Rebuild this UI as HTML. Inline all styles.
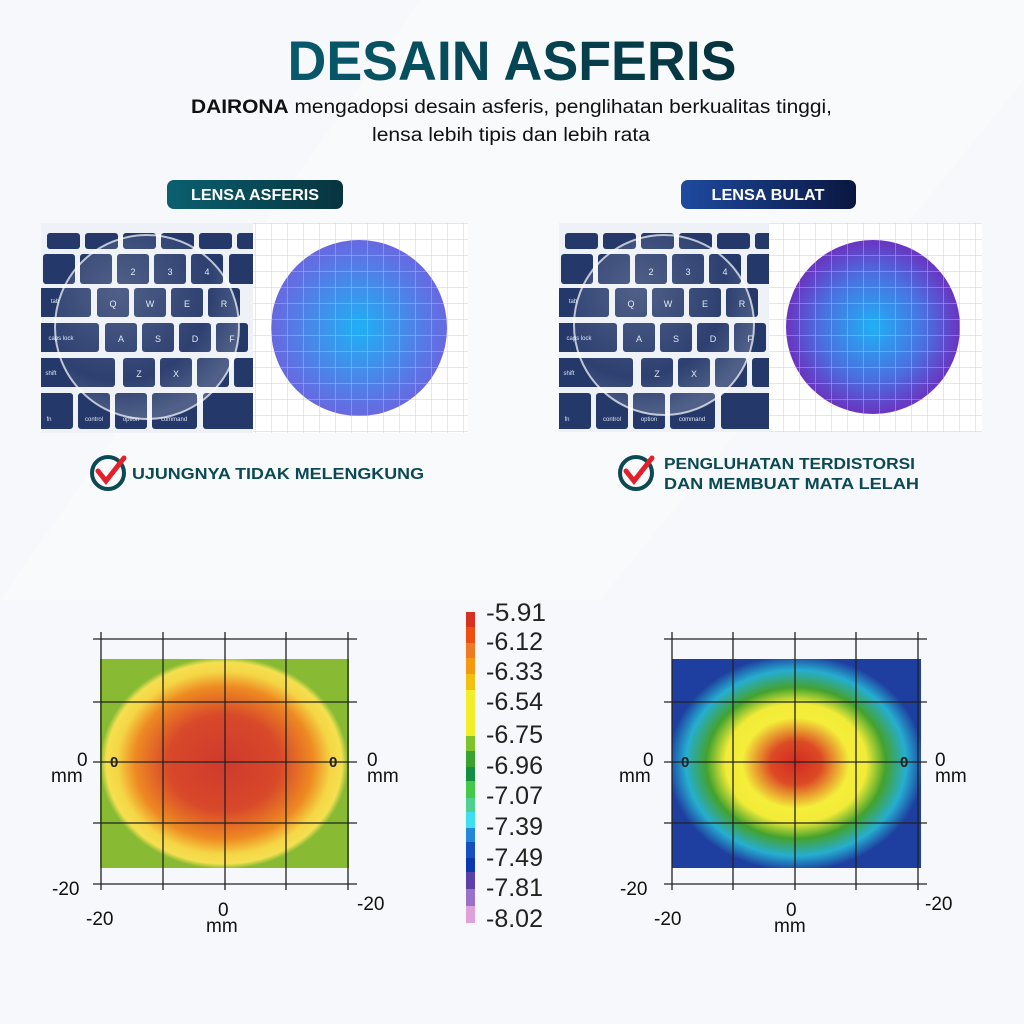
<!DOCTYPE html>
<html><head><meta charset="utf-8"><style>
html,body{margin:0;padding:0;background:#f7f8fb;}
svg{display:block}
text{font-family:"Liberation Sans",sans-serif}
</style></head><body>
<svg width="1024" height="1024" viewBox="0 0 1024 1024" xmlns="http://www.w3.org/2000/svg">
<defs>
<clipPath id="cl1"><rect x="100" y="659" width="249" height="209"/></clipPath>
<clipPath id="cl2"><rect x="672" y="659" width="249" height="209"/></clipPath>
<linearGradient id="tb" x1="0" x2="1"><stop offset="0" stop-color="#0a6070"/><stop offset="1" stop-color="#07343f"/></linearGradient>
<linearGradient id="bb" x1="0" x2="1"><stop offset="0" stop-color="#1e4aa0"/><stop offset="1" stop-color="#0a1640"/></linearGradient>
<linearGradient id="tt" x1="0" x2="1"><stop offset="0" stop-color="#075a6c"/><stop offset="1" stop-color="#06323d"/></linearGradient>
<radialGradient id="c1" cx="0.5" cy="0.5" r="0.5"><stop offset="0" stop-color="#1fb0f5"/><stop offset="1" stop-color="#6868e0"/></radialGradient>
<radialGradient id="c2" cx="0.5" cy="0.5" r="0.5"><stop offset="0" stop-color="#1fb0f5"/><stop offset="0.6" stop-color="#4a70e0"/><stop offset="1" stop-color="#6a34c0"/></radialGradient>
<radialGradient id="h1" cx="0.5" cy="0.5" r="0.5"><stop offset="0" stop-color="#cf3a2c"/><stop offset="0.45" stop-color="#d8482a"/><stop offset="0.72" stop-color="#ee8a22"/><stop offset="0.86" stop-color="#f5d545"/><stop offset="0.95" stop-color="#f5e050"/><stop offset="1" stop-color="#88bb33"/></radialGradient>
<radialGradient id="h2" cx="0.5" cy="0.5" r="0.5"><stop offset="0" stop-color="#d42a20"/><stop offset="0.2" stop-color="#dd4a25"/><stop offset="0.42" stop-color="#f4ee3a"/><stop offset="0.55" stop-color="#f2ec38"/><stop offset="0.7" stop-color="#44a22e"/><stop offset="0.86" stop-color="#26aed0"/><stop offset="1" stop-color="#1e3fa0"/></radialGradient>
<radialGradient id="glass" cx="0.35" cy="0.3" r="0.7"><stop offset="0" stop-color="#fff" stop-opacity="0.2"/><stop offset="0.7" stop-color="#fff" stop-opacity="0.04"/><stop offset="1" stop-color="#fff" stop-opacity="0.2"/></radialGradient>
<g id="kb">
<rect x="0" y="0" width="212" height="210" fill="#eef1f6"/>
<g fill="#24386a">
<rect x="6" y="10" width="33" height="16" rx="3"/><rect x="44" y="10" width="33" height="16" rx="3"/><rect x="82" y="10" width="33" height="16" rx="3"/><rect x="120" y="10" width="33" height="16" rx="3"/><rect x="158" y="10" width="33" height="16" rx="3"/><rect x="196" y="10" width="20" height="16" rx="3"/>
<rect x="2" y="31" width="32" height="30" rx="3"/><rect x="39" y="31" width="32" height="30" rx="3"/><rect x="76" y="31" width="32" height="30" rx="3"/><rect x="113" y="31" width="32" height="30" rx="3"/><rect x="150" y="31" width="32" height="30" rx="3"/><rect x="188" y="31" width="30" height="30" rx="3"/>
<rect x="-2" y="65" width="52" height="29" rx="3"/><rect x="56" y="65" width="32" height="29" rx="3"/><rect x="93" y="65" width="32" height="29" rx="3"/><rect x="130" y="65" width="32" height="29" rx="3"/><rect x="167" y="65" width="32" height="29" rx="3"/>
<rect x="-4" y="100" width="62" height="29" rx="3"/><rect x="64" y="100" width="32" height="29" rx="3"/><rect x="101" y="100" width="32" height="29" rx="3"/><rect x="138" y="100" width="32" height="29" rx="3"/><rect x="175" y="100" width="32" height="29" rx="3"/>
<rect x="-4" y="135" width="78" height="29" rx="3"/><rect x="82" y="135" width="32" height="29" rx="3"/><rect x="119" y="135" width="32" height="29" rx="3"/><rect x="156" y="135" width="32" height="29" rx="3"/><rect x="193" y="135" width="25" height="29" rx="3"/>
<rect x="-4" y="170" width="36" height="36" rx="3"/><rect x="37" y="170" width="32" height="36" rx="3"/><rect x="74" y="170" width="32" height="36" rx="3"/><rect x="111" y="170" width="45" height="36" rx="3"/><rect x="162" y="170" width="56" height="36" rx="3"/>
</g>
<g fill="#dfe6f3" font-size="9" text-anchor="middle">
<text x="72" y="84">Q</text><text x="109" y="84">W</text><text x="146" y="84">E</text><text x="183" y="84">R</text>
<text x="80" y="119">A</text><text x="117" y="119">S</text><text x="154" y="119">D</text><text x="191" y="119">F</text>
<text x="98" y="154">Z</text><text x="135" y="154">X</text>
<text x="92" y="52">2</text><text x="129" y="52">3</text><text x="166" y="52">4</text>
<text font-size="6" x="14" y="80">tab</text><text font-size="6" x="20" y="117">caps lock</text><text font-size="6" x="10" y="152">shift</text><text font-size="6" x="8" y="198">fn</text><text font-size="6" x="53" y="198">control</text><text font-size="6" x="90" y="198">option</text><text font-size="6" x="133" y="198">command</text>
</g>
</g>
<pattern id="grid" width="16" height="16" patternUnits="userSpaceOnUse"><path d="M16 0V16H0" fill="none" stroke="#c4c6cc" stroke-width="1"/></pattern>
</defs>

<rect width="1024" height="1024" fill="#f7f8fb"/>
<polygon points="0,600 420,0 1024,0 1024,80 600,600" fill="#ffffff" opacity="0.3"/>

<text x="512" y="80" text-anchor="middle" font-size="56" font-weight="bold" fill="url(#tt)" textLength="449" lengthAdjust="spacingAndGlyphs">DESAIN ASFERIS</text>
<text x="191" y="113" font-size="19" fill="#111" textLength="641" lengthAdjust="spacingAndGlyphs"><tspan font-weight="bold">DAIRONA</tspan>  mengadopsi desain asferis, penglihatan berkualitas tinggi,</text>
<text x="511" y="141" text-anchor="middle" font-size="19" fill="#111" textLength="278" lengthAdjust="spacingAndGlyphs">lensa lebih tipis dan lebih rata</text>

<rect x="167" y="180" width="176" height="29" rx="7" fill="url(#tb)"/>
<text x="255" y="200" text-anchor="middle" font-size="16" font-weight="bold" fill="#fff" textLength="128" lengthAdjust="spacingAndGlyphs">LENSA ASFERIS</text>
<rect x="681" y="180" width="175" height="29" rx="7" fill="url(#bb)"/>
<text x="768" y="200" text-anchor="middle" font-size="16" font-weight="bold" fill="#fff" textLength="113" lengthAdjust="spacingAndGlyphs">LENSA BULAT</text>

<svg x="41" y="223" width="212" height="210" overflow="hidden"><use href="#kb"/></svg>
<circle cx="147" cy="327" r="92" fill="url(#glass)" stroke="#fff" stroke-opacity="0.7" stroke-width="2"/>
<rect x="253" y="223" width="215" height="210" fill="#fff"/>
<circle cx="359" cy="328" r="88" fill="url(#c1)"/>
<rect x="253" y="223" width="215" height="210" fill="url(#grid)" opacity="0.85"/>

<svg x="559" y="223" width="210" height="209" overflow="hidden"><use href="#kb"/></svg>
<circle cx="664" cy="325" r="90" fill="url(#glass)" stroke="#fff" stroke-opacity="0.7" stroke-width="2"/>
<rect x="769" y="223" width="213" height="209" fill="#fff"/>
<circle cx="873" cy="327" r="87" fill="url(#c2)"/>
<rect x="769" y="223" width="213" height="209" fill="url(#grid)" opacity="0.85"/>

<g>
<circle cx="108" cy="473" r="16" fill="none" stroke="#0b4a55" stroke-width="4"/>
<path d="M98 471 L106 481 L124 458" fill="none" stroke="#e3202a" stroke-width="5" stroke-linecap="round"/>
<text x="132" y="479" font-size="16" font-weight="bold" fill="#0b4a55" textLength="292" lengthAdjust="spacingAndGlyphs">UJUNGNYA TIDAK MELENGKUNG</text>
<circle cx="636" cy="473" r="16" fill="none" stroke="#0b4a55" stroke-width="4"/>
<path d="M626 471 L634 481 L652 458" fill="none" stroke="#e3202a" stroke-width="5" stroke-linecap="round"/>
<text x="664" y="469" font-size="16" font-weight="bold" fill="#0b4a55" textLength="251" lengthAdjust="spacingAndGlyphs">PENGLUHATAN TERDISTORSI</text>
<text x="664" y="489" font-size="16" font-weight="bold" fill="#0b4a55" textLength="255" lengthAdjust="spacingAndGlyphs">DAN MEMBUAT MATA LELAH</text>
</g>

<rect x="100" y="659" width="249" height="209" fill="#88bb33"/>
<g clip-path="url(#cl1)"><ellipse cx="224" cy="763" rx="124" ry="106" fill="url(#h1)"/></g>
<g stroke="#222" stroke-width="1.3">
<line x1="101" y1="632" x2="101" y2="890"/><line x1="163" y1="632" x2="163" y2="890"/><line x1="225" y1="632" x2="225" y2="890"/><line x1="286" y1="632" x2="286" y2="890"/><line x1="348" y1="632" x2="348" y2="890"/>
<line x1="93" y1="639" x2="357" y2="639"/><line x1="93" y1="702" x2="357" y2="702"/><line x1="93" y1="762" x2="357" y2="762"/><line x1="93" y1="823" x2="357" y2="823"/><line x1="93" y1="884" x2="357" y2="884"/>
</g>
<g font-size="19" fill="#111">
<text x="77" y="766">0</text><text x="51" y="782">mm</text>
<text x="367" y="766">0</text><text x="367" y="782">mm</text>
<text x="52" y="895">-20</text><text x="86" y="925">-20</text><text x="357" y="910">-20</text>
<text x="218" y="916">0</text><text x="206" y="932">mm</text>
</g>
<g font-family="Liberation Serif" font-weight="bold" font-size="15" fill="#222"><text x="110" y="767">0</text><text x="329" y="767">0</text></g>

<rect x="672" y="659" width="249" height="209" fill="#1e3fa0"/>
<g clip-path="url(#cl2)"><ellipse cx="796" cy="763" rx="128" ry="108" fill="url(#h2)"/></g>
<g stroke="#222" stroke-width="1.3">
<line x1="672" y1="632" x2="672" y2="890"/><line x1="733" y1="632" x2="733" y2="890"/><line x1="795" y1="632" x2="795" y2="890"/><line x1="856" y1="632" x2="856" y2="890"/><line x1="918" y1="632" x2="918" y2="890"/>
<line x1="664" y1="639" x2="927" y2="639"/><line x1="664" y1="702" x2="927" y2="702"/><line x1="664" y1="762" x2="927" y2="762"/><line x1="664" y1="823" x2="927" y2="823"/><line x1="664" y1="884" x2="927" y2="884"/>
</g>
<g font-size="19" fill="#111">
<text x="643" y="766">0</text><text x="619" y="782">mm</text>
<text x="935" y="766">0</text><text x="935" y="782">mm</text>
<text x="620" y="895">-20</text><text x="654" y="925">-20</text><text x="925" y="910">-20</text>
<text x="786" y="916">0</text><text x="774" y="932">mm</text>
</g>
<g font-family="Liberation Serif" font-weight="bold" font-size="15" fill="#222"><text x="681" y="767">0</text><text x="900" y="767">0</text></g>

<g>
<rect x="466" y="612" width="9" height="15" fill="#d8301e"/>
<rect x="466" y="627" width="9" height="16" fill="#f04e10"/>
<rect x="466" y="643" width="9" height="15" fill="#ef7a22"/>
<rect x="466" y="658" width="9" height="16" fill="#f39a10"/>
<rect x="466" y="674" width="9" height="16" fill="#f3c010"/>
<rect x="466" y="690" width="9" height="46" fill="#f4ee2a"/>
<rect x="466" y="736" width="9" height="15" fill="#7ec32a"/>
<rect x="466" y="751" width="9" height="16" fill="#3aa32e"/>
<rect x="466" y="767" width="9" height="14" fill="#109040"/>
<rect x="466" y="781" width="9" height="17" fill="#44c848"/>
<rect x="466" y="798" width="9" height="14" fill="#4ed090"/>
<rect x="466" y="812" width="9" height="16" fill="#3ce0f0"/>
<rect x="466" y="828" width="9" height="14" fill="#2288d8"/>
<rect x="466" y="842" width="9" height="16" fill="#1450c0"/>
<rect x="466" y="858" width="9" height="14" fill="#0a38b0"/>
<rect x="466" y="872" width="9" height="17" fill="#5a40a8"/>
<rect x="466" y="889" width="9" height="17" fill="#9a70c8"/>
<rect x="466" y="906" width="9" height="17" fill="#e0a0dc"/>
</g>
<g font-size="25" fill="#222">
<text x="486" y="621" textLength="60" lengthAdjust="spacingAndGlyphs">-5.91</text><text x="486" y="650">-6.12</text><text x="486" y="680">-6.33</text><text x="486" y="710">-6.54</text><text x="486" y="743">-6.75</text><text x="486" y="774">-6.96</text><text x="486" y="804">-7.07</text><text x="486" y="835">-7.39</text><text x="486" y="866">-7.49</text><text x="486" y="896">-7.81</text><text x="486" y="927">-8.02</text>
</g>
</svg>
</body></html>
